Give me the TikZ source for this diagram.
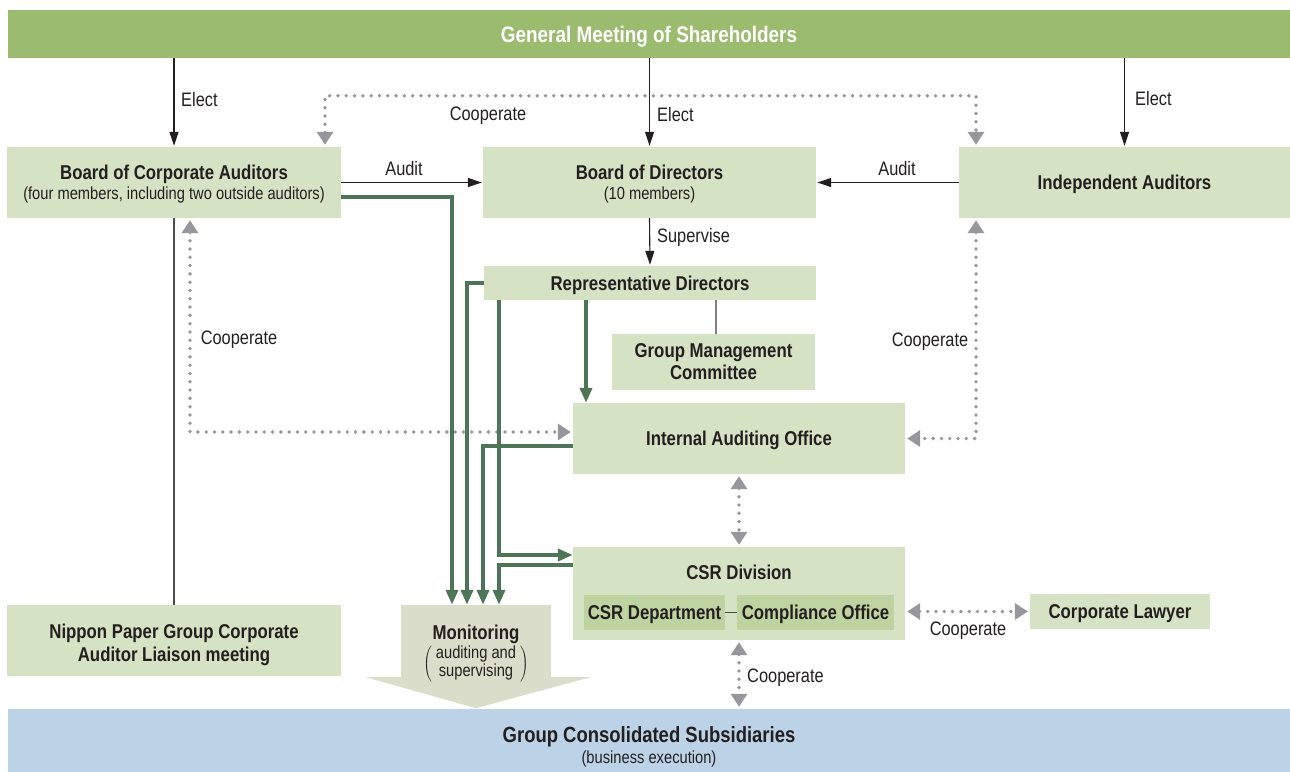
\documentclass[tikz,border=0pt]{standalone}
\usepackage{fontspec}
\setmainfont{Liberation Sans}[FakeStretch=0.84]
\usetikzlibrary{arrows.meta,calc}
\definecolor{boxg}{RGB}{214,226,196}
\definecolor{topg}{RGB}{155,187,111}
\definecolor{blueb}{RGB}{188,211,231}
\definecolor{innerg}{RGB}{190,211,160}
\definecolor{mong}{RGB}{217,221,201}
\definecolor{darkg}{RGB}{79,117,89}
\definecolor{dotg}{RGB}{150,150,156}
\definecolor{txt}{RGB}{35,31,32}
\begin{document}
\begin{tikzpicture}[x=1pt,y=-1pt,
  box/.style={fill=boxg, draw=none, inner sep=0pt, align=center, text=txt, text depth=0pt,
    font=\bfseries\fontsize{20}{21}\selectfont},
  lbl/.style={text=txt, inner sep=0pt, text height=14pt, text depth=0pt, font=\fontsize{19.5}{22}\selectfont},
  blk/.style={draw=txt, line width=1.1pt, -{Triangle[length=14pt,width=9pt]}, shorten >=1pt},
  coopb/.style={draw=dotg, line width=3.8pt, line cap=round, dash pattern=on 0pt off 8.3pt,
    {Triangle[length=13pt,width=16pt]}-{Triangle[length=13pt,width=16pt]}, shorten <=2pt, shorten >=2pt},
  gl/.style={draw=darkg, line width=4.5pt, -{Triangle[length=15pt,width=12pt]}},
  thinl/.style={draw=txt!80, line width=1.1pt}
]
\useasboundingbox (0,0) rectangle (1290,771);

% boxes
\node[box, fill=topg, text=white, minimum width=1282pt, minimum height=48pt,
  font=\bfseries\fontsize{22.5}{24}\selectfont] (gm) at (649,34) {General Meeting of Shareholders};
\node[box, minimum width=334pt, minimum height=71pt, font=\bfseries\fontsize{20}{20}\selectfont] (bca) at (174,182.5)
  {Board of Corporate Auditors\\{\mdseries\fontsize{17.5}{20}\selectfont (four members, including two outside auditors)}};
\node[box, minimum width=333pt, minimum height=71pt, font=\bfseries\fontsize{20}{20}\selectfont] (bod) at (649.5,182.5)
  {Board of Directors\\{\mdseries\fontsize{17.5}{20}\selectfont (10 members)}};
\node[box, minimum width=331pt, minimum height=71pt] (ia) at (1124.5,182.5) {Independent Auditors};
\node[box, minimum width=332pt, minimum height=34pt] (rd) at (650,283) {Representative Directors};
\node[box, minimum width=203pt, minimum height=56pt, font=\bfseries\fontsize{20}{22}\selectfont] (gmc) at (713.5,362) {Group Management\\Committee};
\node[box, minimum width=332pt, minimum height=71pt] (iao) at (739,438.5) {Internal Auditing Office};
\node[box, minimum width=332pt, minimum height=93pt] (csr) at (739,593.5) {};
\node[text=txt, font=\bfseries\fontsize{20}{21}\selectfont, inner sep=0pt] (csrt) at (739,572) {CSR Division};
\node[box, fill=innerg, minimum width=141pt, minimum height=35pt] (csrd) at (654.5,612.5) {CSR Department};
\node[box, fill=innerg, minimum width=157pt, minimum height=35pt] (co) at (815.5,612.5) {Compliance Office};
\node[box, minimum width=180pt, minimum height=35pt] (cl) at (1120,611.5) {Corporate Lawyer};
\node[box, minimum width=334pt, minimum height=71pt, font=\bfseries\fontsize{20}{23}\selectfont] (np) at (174,640.5)
  {\rule{0pt}{18pt}Nippon Paper Group Corporate\\Auditor Liaison meeting};
\node[box, fill=blueb, minimum width=1282pt, minimum height=72pt, font=\bfseries\fontsize{22}{21}\selectfont] (gcs) at (649,745)
  {Group Consolidated Subsidiaries\\{\mdseries\fontsize{17.5}{20}\selectfont (business execution)}};

% monitoring arrow
\node[fill=mong, inner sep=0pt, minimum width=150pt, minimum height=72pt] (mon) at (476,641) {};
\fill[mong] ([xshift=-35pt]mon.south west) -- ([xshift=39pt]mon.south east) -- ([yshift=-31pt]mon.south) -- cycle;
\node[text=txt, inner sep=0pt, text height=14.5pt, text depth=0pt, font=\bfseries\fontsize{20}{20}\selectfont] (montext) at (476,632) {Monitoring};
\node[text=txt, inner sep=0pt, font=\fontsize{17.5}{18}\selectfont] (monsub) at (476,664)
  {$\left(\mbox{\begin{tabular}{@{\hspace{4pt}}c@{\hspace{4pt}}}auditing and\\[0pt]supervising\end{tabular}}\right)$};

% elect arrows
\draw[blk] (gm.south -| bca.north) -- (bca.north);
\draw[blk] (gm.south -| bod.north) -- (bod.north);
\draw[blk] (gm.south -| ia.north) -- (ia.north);
\node[lbl, anchor=west] (el1) at (181,99) {Elect};
\node[lbl, anchor=west] (el2) at (657,114) {Elect};
\node[lbl, anchor=west] (el3) at (1135,98) {Elect};

% audit / supervise
\draw[blk] (bca.east) -- (bod.west);
\draw[blk] (ia.west) -- (bod.east);
\node[lbl] (au1) at (404,168) {Audit};
\node[lbl] (au2) at (897,168) {Audit};
\draw[blk] (bod.south) -- (rd.north);
\node[lbl, anchor=west] (sup) at (657,235) {Supervise};
\draw[thinl, draw=gray] ([xshift=2.5pt]gmc.north) -- ([xshift=2.5pt]gmc.north |- rd.south);
\draw[thinl] (bca.south) -- (np.north);
\draw[thinl, line width=1pt] (csrd.east) -- (co.west);

% cooperate dotted
\draw[coopb] ([xshift=151pt]bca.north) -- ++(0,-51) -| ([xshift=-148.5pt]ia.north);
\node[lbl] (c1) at (488,113) {Cooperate};
\draw[coopb] ([xshift=16pt]bca.south) |- ([yshift=6.5pt]iao.west);
\node[lbl] (c2) at (239,337) {Cooperate};
\draw[coopb] ([xshift=-148.5pt]ia.south) |- (iao.east);
\node[lbl] (c3) at (930,339) {Cooperate};
\draw[coopb] (iao.south) -- (csr.north);
\draw[coopb] (csr.east |- cl.west) -- (cl.west);
\node[lbl] (c4) at (968,628) {Cooperate};
\draw[coopb] (csr.south) -- (csr.south |- gcs.north);
\node[lbl, anchor=west] (c5) at (747,675) {Cooperate};

% green monitoring lines
\draw[gl] ([yshift=-14.5pt]bca.east) -| ([xshift=-24pt]mon.north);
\draw[gl] (rd.west) -| ([xshift=-9pt]mon.north);
\draw[gl] ([yshift=-7.5pt]iao.west) -| ([xshift=7pt]mon.north);
\draw[gl] ([xshift=-151pt]rd.south) |- ([yshift=38.5pt]csr.west);
\draw[gl] ([yshift=28.5pt]csr.west) -| ([xshift=23pt]mon.north);
\draw[gl] ([xshift=-64pt]rd.south) -- ([xshift=-64pt]rd.south |- iao.north);
\end{tikzpicture}
\end{document}
